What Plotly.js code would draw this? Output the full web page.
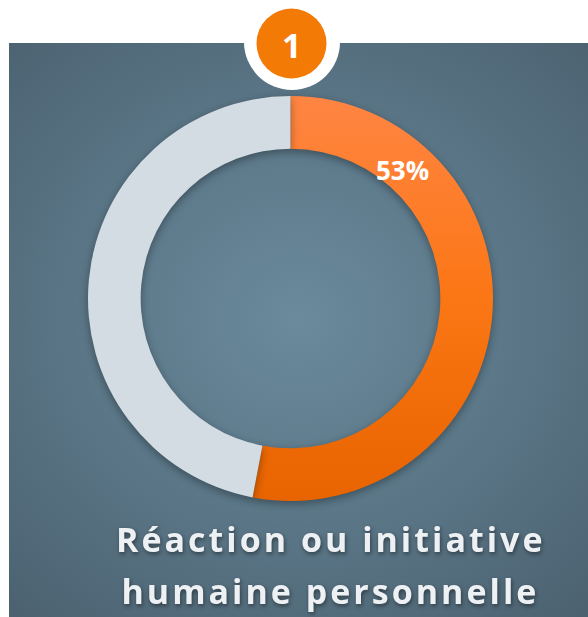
<!DOCTYPE html>
<html>
<head>
<meta charset="utf-8">
<script src="https://cdn.plot.ly/plotly-3.0.1.min.js"></script>
<style>
html,body{margin:0;padding:0;background:#ffffff;}
#wrap{position:relative;width:588px;height:617px;overflow:hidden;}
#panel{position:absolute;left:9px;top:43px;width:579px;height:574px;
 background:radial-gradient(ellipse 75% 70% at 50% 48%, #6b8a9b 0%, #5e7b8c 40%, #4b6170 100%);}
#chart{position:absolute;left:0;top:0;width:588px;height:617px;}
#chart .pielayer path.surface{filter:drop-shadow(0px 3px 4px rgba(0,0,0,0.35));}
#chart .annotation.title-line text{letter-spacing:3px;}
#chart .annotation.title-line{filter:drop-shadow(1px 2px 2px rgba(0,0,0,0.45));}
</style>
</head>
<body>
<div id="wrap"><div id="panel"></div><div id="chart"></div></div>
<script>
// data
var categories = ["Réaction ou initiative humaine personnelle", "Autre"];
var values = [53, 47];
var sliceColors = ["#f77a22", "#d3dce3"];
var badgeLabel = "1";
var titleLines = ["Réaction ou initiative", "humaine personnelle"];

var W = 588, H = 617;
var cx = 290.5, cy = 298.5, R = 202.5, hole = 0.74;

var total = values[0] + values[1];
var pct = Math.round(values[0] / total * 100) + "%";

// label position on ring (placed near the start of the slice, as in the reference)
var ang = 41 * Math.PI / 180;
var rLab = 170;
var lx = cx + rLab * Math.sin(ang), ly = cy - rLab * Math.cos(ang);

var trace = {
  type: "pie",
  labels: categories,
  values: values,
  hole: hole,
  sort: false,
  direction: "clockwise",
  rotation: 0,
  textinfo: "none",
  hoverinfo: "label+percent",
  marker: {colors: sliceColors, line: {width: 0}},
  domain: {x: [(cx - R) / W, (cx + R) / W], y: [(H - cy - R) / H, (H - cy + R) / H]},
  showlegend: false
};

function px(x){return x / W;}
function py(y){return 1 - y / H;}

var layout = {
  width: W, height: H,
  margin: {l: 0, r: 0, t: 0, b: 0},
  paper_bgcolor: "rgba(0,0,0,0)",
  plot_bgcolor: "rgba(0,0,0,0)",
  showlegend: false,
  shapes: [
    {type: "circle", xref: "paper", yref: "paper", layer: "above",
     x0: px(292 - 48), x1: px(292 + 48), y0: py(42 + 48), y1: py(42 - 48),
     fillcolor: "#ffffff", line: {width: 0}},
    {type: "circle", xref: "paper", yref: "paper", layer: "above",
     x0: px(291.5 - 35), x1: px(291.5 + 35), y0: py(43.5 + 35), y1: py(43.5 - 35),
     fillcolor: "#f47a06", line: {width: 0}}
  ],
  annotations: [
    {text: "<b>" + badgeLabel + "</b>", xref: "paper", yref: "paper", x: px(291.5), y: py(45),
     showarrow: false, font: {family: "Open Sans", size: 34, color: "#ffffff"}, xanchor: "center", yanchor: "middle"},
    {text: "<b>" + pct + "</b>", xref: "paper", yref: "paper", x: px(lx), y: py(ly),
     showarrow: false, font: {family: "Open Sans", size: 26, color: "#ffffff"}, xanchor: "center", yanchor: "middle"},
    {text: "<b>" + titleLines[0] + "</b>", xref: "paper", yref: "paper", x: px(330), y: py(539),
     showarrow: false, font: {family: "Open Sans", size: 34, color: "#eef1f4"}, xanchor: "center", yanchor: "middle"},
    {text: "<b>" + titleLines[1] + "</b>", xref: "paper", yref: "paper", x: px(330), y: py(591),
     showarrow: false, font: {family: "Open Sans", size: 34, color: "#eef1f4"}, xanchor: "center", yanchor: "middle"}
  ]
};

Plotly.newPlot("chart", [trace], layout, {displayModeBar: false, staticPlot: true}).then(function(gd){
  var anns = gd.querySelectorAll(".annotation");
  for (var i = 2; i < anns.length; i++) anns[i].classList.add("title-line");
  var svg = gd.querySelector("svg.main-svg");
  var ns = "http://www.w3.org/2000/svg";
  var defs = document.createElementNS(ns, "defs");
  var g = document.createElementNS(ns, "linearGradient");
  g.setAttribute("id", "orgrad");
  g.setAttribute("gradientUnits", "userSpaceOnUse");
  g.setAttribute("x1", "0"); g.setAttribute("y1", String(cy - R));
  g.setAttribute("x2", "0"); g.setAttribute("y2", String(cy + R));
  [["0", "#ff8543"], ["0.5", "#fb7614"], ["1", "#e86400"]].forEach(function(s){
    var st = document.createElementNS(ns, "stop");
    st.setAttribute("offset", s[0]); st.setAttribute("stop-color", s[1]);
    g.appendChild(st);
  });
  defs.appendChild(g);
  svg.insertBefore(defs, svg.firstChild);
  var slices = gd.querySelectorAll(".pielayer .slice path.surface");
  if (slices.length) {
    var p = slices[0];
    var ctm = p.getCTM();
    g.setAttribute("y1", String(cy - R - ctm.f));
    g.setAttribute("y2", String(cy + R - ctm.f));
    p.style.fill = "url(#orgrad)";
  }
});
</script>
</body>
</html>
